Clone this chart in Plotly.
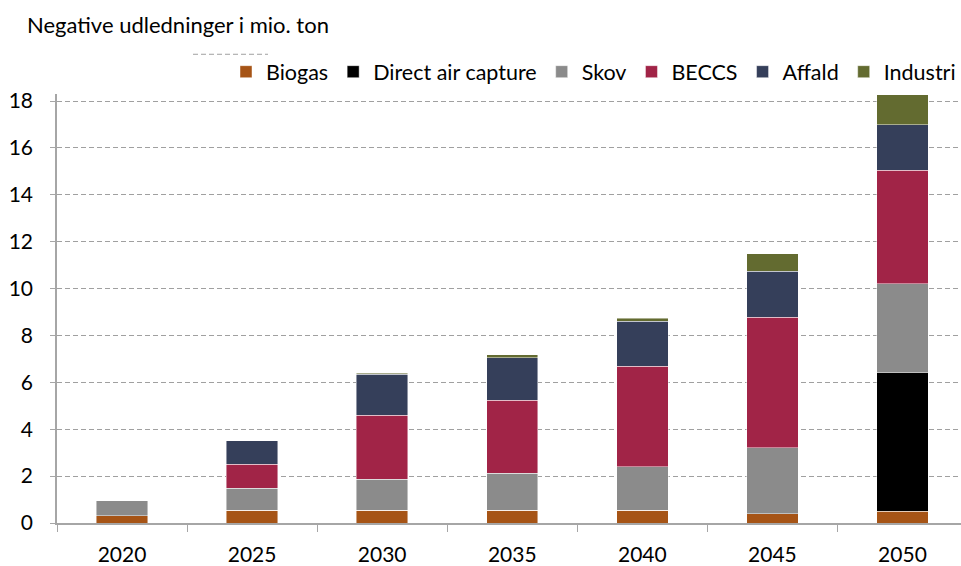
import plotly.graph_objects as go

years = ["2020", "2025", "2030", "2035", "2040", "2045", "2050"]
biogas = [0.30, 0.54, 0.54, 0.54, 0.54, 0.39, 0.51]
dac = [0, 0, 0, 0, 0, 0, 5.90]
skov = [0.65, 0.94, 1.32, 1.58, 1.87, 2.83, 3.80]
beccs = [0, 1.02, 2.73, 3.12, 4.28, 5.56, 4.84]
affald = [0, 1.00, 1.75, 1.82, 1.92, 1.95, 1.93]
industri = [0, 0, 0.04, 0.11, 0.13, 0.75, 1.28]

series = [
    ("Biogas", biogas, "#A65416"),
    ("Direct air capture", dac, "#000000"),
    ("Skov", skov, "#8B8B8B"),
    ("BECCS", beccs, "#A12447"),
    ("Affald", affald, "#353F5A"),
    ("Industri", industri, "#636B30"),
]

fig = go.Figure()
for name, vals, col in series:
    fig.add_trace(go.Bar(
        x=years, y=vals, name=name,
        marker=dict(color=col, line=dict(color="rgba(255,255,255,0.6)", width=0.75)),
        width=0.395,
    ))

font = "Lato, 'Open Sans', sans-serif"
fig.update_layout(
    barmode="stack",
    width=961, height=566,
    margin=dict(l=57, r=0, t=94, b=40),
    plot_bgcolor="white", paper_bgcolor="white",
    font=dict(family=font, size=21, color="#000000"),
    title=dict(text="Negative udledninger i mio. ton", x=27/961, xanchor="left",
               y=1-25/566, yanchor="middle", xref="container", yref="container",
               font=dict(size=22, color="#000000")),
    legend=dict(orientation="h", x=1.0, xanchor="right", y=1.052, yanchor="middle",
                font=dict(size=21.5), itemwidth=30, traceorder="normal",
                bgcolor="rgba(0,0,0,0)"),
    showlegend=True,
)
fig.update_xaxes(
    type="category", range=[-0.5, 6.45],
    showline=True, linecolor="#A6A6A6", linewidth=1.5,
    ticks="outside", tickson="boundaries", ticklen=7, tickcolor="#A6A6A6",
    ticklabelstandoff=12, showgrid=False, tickfont=dict(size=21),
)
fig.update_yaxes(
    range=[0, 18.3], tickvals=[0, 2, 4, 6, 8, 10, 12, 14, 16, 18],
    showline=True, linecolor="#A6A6A6", linewidth=1.5,
    ticks="outside", ticklen=5, tickcolor="#A6A6A6",
    showgrid=True, gridcolor="#A0A0A0", griddash="5px,3px", gridwidth=1,
    zeroline=False, ticklabelstandoff=13, tickfont=dict(size=21),
)
fig.add_shape(type="line", xref="paper", yref="paper",
              x0=(193-57)/904, x1=(268-57)/904,
              y0=(526-54)/432, y1=(526-54)/432,
              line=dict(color="#A0A0A0", width=1, dash="5px,3px"))
fig.write_html("out.html", config={"displayModeBar": False},
               post_script="document.body.style.margin='0';document.body.style.overflow='hidden';")
